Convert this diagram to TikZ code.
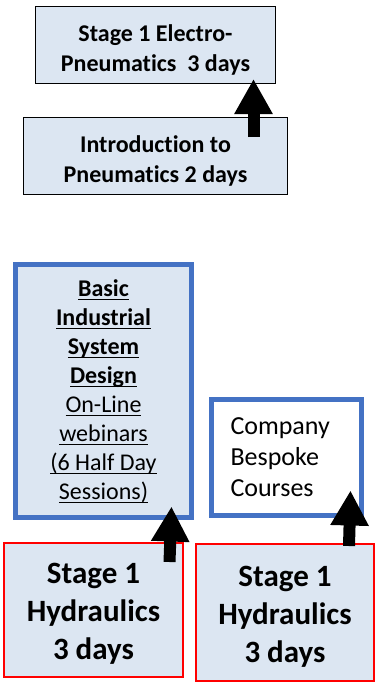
\documentclass[tikz,border=0pt]{standalone}
\usepackage{fontspec}
\setmainfont{Carlito}[Ligatures=NoCommon]
\usepackage{tikz}
\usetikzlibrary{arrows.meta}
\definecolor{paleblue}{HTML}{DCE6F2}
\definecolor{frameblue}{HTML}{4472C4}
\newcommand{\ulline}[1]{\underline{\raisebox{0pt}[\height][0pt]{#1}\rule[-1.5pt]{0pt}{1pt}}}
\tikzset{
    course/.style={rectangle, draw=black, line width=1pt, fill=paleblue, align=center, font=\fontsize{24}{30}\selectfont\bfseries, text height=58pt, text depth=5pt},
    webinar/.style={rectangle, draw=frameblue, line width=5pt, fill=paleblue, align=center, font=\fontsize{24}{29}\selectfont},
    bespoke/.style={rectangle, draw=frameblue, line width=5pt, fill=white, align=left, text width=112pt, font=\fontsize{26}{31}\selectfont},
    hydraulic/.style={rectangle, draw=red, line width=2pt, fill=paleblue, align=center, font=\fontsize{31}{38}\selectfont\bfseries, text height=105pt, text depth=6pt},
    blockarrow/.style={-{Triangle[width=36pt, length=35pt]}, line width=12pt, black}
}

\begin{document}
\begin{tikzpicture}[x=1pt, y=-1pt]
    \useasboundingbox (0,0) rectangle (375,683);

    % pneumatics route
    \node (epn) [course, minimum width=240pt, minimum height=77pt] at (155.5,45) {Stage 1 Electro-\\Pneumatics~~3 days};
    \node (intro) [course, minimum width=264pt, minimum height=77pt] at (155.5,156) {Introduction to\\Pneumatics 2 days};

    % hydraulics route
    \node (basic) [webinar, minimum width=176pt, minimum height=253pt] at (103.5,391) {\textbf{\ulline{Basic}}\\\textbf{\ulline{Industrial}}\\\textbf{\ulline{System}}\\\textbf{\ulline{Design}}\\\ulline{On-Line}\\\ulline{webinars}\\\ulline{(6 Half Day}\\\ulline{Sessions)}};
    \node (company) [bespoke, minimum width=150pt, minimum height=116pt] at (286.5,457.5) {Company\\Bespoke\\Courses};
    \node (hydleft) [hydraulic, minimum width=179pt, minimum height=134pt] at (93.5,610) {Stage 1\\Hydraulics\\3 days};
    \node (hydright) [hydraulic, minimum width=178pt, minimum height=137pt] at (285,612.5) {Stage 1\\Hydraulics\\3 days};

    \draw[blockarrow] ([shift={(-34.5,20)}]intro.north east) -- ([shift={(-22.5,-5)}]epn.south east);
    \draw[blockarrow] ([shift={(-14.5,20)}]hydleft.north east) -- ([shift={(-22.5,-13.5)}]basic.south east);
    \draw[blockarrow] ([shift={(-26,3)}]hydright.north east) -- ([shift={(-13.5,-27.5)}]company.south east);
\end{tikzpicture}
\end{document}
